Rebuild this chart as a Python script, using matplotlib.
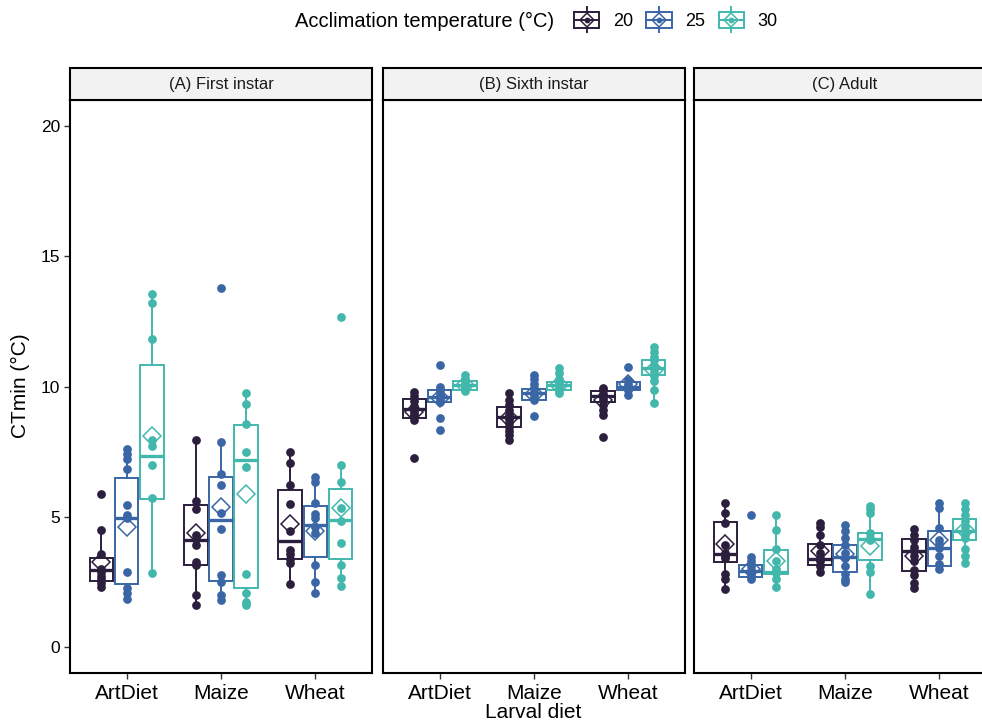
import matplotlib
matplotlib.use("Agg")
import matplotlib.pyplot as plt
from matplotlib.legend_handler import HandlerBase
from matplotlib.lines import Line2D
from matplotlib.patches import Rectangle

plt.rcParams['font.family'] = ['Liberation Sans', 'DejaVu Sans']

# data - indexed [stage][diet][temperature]
stages = ["(A) First instar", "(B) Sixth instar", "(C) Adult"]
diets = ["ArtDiet", "Maize", "Wheat"]
temps = ["20", "25", "30"]
temp_colors = ["#2C1E3D", "#3A66A6", "#42B8AD"]

q1 = [
    [[2.54, 2.40, 5.69], [3.16, 2.54, 2.27], [3.37, 3.47, 3.37]],
    [[8.80, 9.39, 9.87], [8.45, 9.49, 9.87], [9.39, 9.85, 10.45]],
    [[3.27, 2.70, 2.79], [3.14, 2.88, 3.33], [2.92, 3.09, 4.09]],
]
med = [
    [[2.95, 4.97, 7.32], [4.11, 4.87, 7.19], [4.08, 4.67, 4.87]],
    [[9.15, 9.59, 10.05], [8.83, 9.75, 10.05], [9.62, 10.00, 10.70]],
    [[3.56, 2.92, 2.86], [3.37, 3.47, 4.16], [3.67, 3.79, 4.45]],
]
q3 = [
    [[3.42, 6.48, 10.84], [5.46, 6.53, 8.52], [6.02, 5.41, 6.07]],
    [[9.52, 9.85, 10.23], [9.21, 9.92, 10.19], [9.81, 10.16, 11.02]],
    [[4.80, 3.14, 3.72], [3.97, 3.90, 4.39], [4.13, 4.45, 4.92]],
]
whisk_lo = [
    [[2.30, 1.86, 2.83], [1.61, 1.81, 1.63], [2.42, 2.09, 2.35]],
    [[8.73, 9.30, 9.82], [7.96, 9.40, 9.75], [8.92, 9.68, 9.36]],
    [[2.22, 2.60, 2.32], [2.86, 2.48, 2.03], [2.28, 2.99, 3.24]],
]
whisk_hi = [
    [[4.49, 7.60, 13.55], [7.93, 7.88, 9.75], [7.50, 6.51, 6.99]],
    [[9.77, 10.00, 10.45], [9.75, 10.45, 10.70], [9.94, 10.30, 11.53]],
    [[5.51, 3.47, 5.05], [4.75, 4.67, 5.43], [4.52, 5.51, 5.51]],
]
means = [
    [[3.27, 4.62, 8.11], [4.39, 5.36, 5.87], [4.72, 4.47, 5.33]],
    [[9.04, 9.55, 10.07], [8.80, 9.72, 10.07], [9.50, 10.10, 10.64]],
    [[3.94, 2.99, 3.30], [3.69, 3.55, 3.88], [3.50, 4.11, 4.50]],
]

first_instar_pts = [
    [[5.89, 4.49, 3.55, 2.99, 2.86, 2.73, 2.60, 2.45, 2.30],
     [7.60, 7.42, 7.22, 6.84, 5.46, 5.08, 4.95, 2.88, 2.27, 2.09, 1.86],
     [13.55, 13.19, 11.84, 7.96, 7.70, 6.97, 5.71, 2.83]],
    [[7.93, 5.59, 5.28, 4.31, 4.13, 3.93, 3.27, 3.16, 1.99, 1.61],
     [13.80, 7.88, 6.63, 6.23, 5.13, 4.54, 2.78, 2.48, 1.99, 1.81],
     [9.75, 9.34, 8.57, 7.47, 6.92, 2.81, 2.09, 1.73, 1.63]],
    [[7.50, 7.07, 6.20, 5.48, 4.44, 3.72, 3.55, 3.37, 3.21, 2.42],
     [6.51, 6.33, 5.54, 5.10, 4.95, 4.59, 4.39, 3.16, 2.48, 2.09],
     [12.66, 6.99, 6.33, 5.33, 4.82, 4.01, 3.14, 2.65, 2.35]],
]
sixth_instar_pts = [
    [[9.77, 9.62, 9.45, 9.25, 9.15, 9.05, 8.95, 8.85, 8.73, 7.26],
     [10.82, 10.00, 9.85, 9.70, 9.60, 9.50, 9.40, 8.79, 8.32],
     [10.45, 10.30, 10.20, 10.10, 10.05, 10.00, 9.95, 9.82]],
    [[9.75, 9.50, 9.30, 9.10, 8.90, 8.75, 8.60, 8.45, 8.30, 8.15, 7.96],
     [10.45, 10.30, 10.10, 9.95, 9.80, 9.70, 9.60, 9.50, 8.85],
     [10.70, 10.50, 10.30, 10.15, 10.05, 9.95, 9.87, 9.75]],
    [[9.94, 9.85, 9.70, 9.60, 9.50, 9.30, 9.10, 8.92, 8.06],
     [10.74, 10.25, 10.10, 10.00, 9.95, 9.90, 9.85, 9.68],
     [11.53, 11.34, 11.15, 11.00, 10.80, 10.70, 10.55, 10.40, 10.20, 9.87, 9.36]],
]
adult_pts = [
    [[5.51, 5.13, 4.77, 3.90, 3.60, 3.50, 3.40, 2.79, 2.60, 2.22],
     [5.05, 3.47, 3.30, 3.10, 2.95, 2.80, 2.70, 2.60],
     [5.05, 4.49, 3.75, 3.30, 2.99, 2.85, 2.60, 2.32]],
    [[4.75, 4.60, 4.30, 3.90, 3.60, 3.40, 3.30, 3.10, 2.86],
     [4.67, 4.45, 4.20, 3.90, 3.60, 3.40, 3.10, 2.80, 2.60, 2.48],
     [5.43, 5.28, 5.15, 4.39, 4.20, 4.10, 3.10, 2.86, 2.03]],
    [[4.52, 4.30, 4.10, 3.85, 3.70, 3.50, 3.30, 2.95, 2.75, 2.45, 2.28],
     [5.51, 5.35, 4.58, 4.10, 3.95, 3.80, 3.50, 3.20, 2.99],
     [5.51, 5.28, 5.05, 4.85, 4.60, 4.45, 4.35, 4.20, 3.75, 3.50, 3.24]],
]
points = [first_instar_pts, sixth_instar_pts, adult_pts]

W, H = 982, 724
dodge = 0.268
box_w = 0.25


def frac(left, top, w, h):
    return [left / W, 1 - (top + h) / H, w / W, h / H]


class BoxKey(HandlerBase):
    # legend key: little boxplot with point and open diamond
    def create_artists(self, legend, orig_handle, xdescent, ydescent,
                       width, height, fontsize, trans):
        c = orig_handle.get_color()
        x0, y0 = -xdescent, -ydescent
        cx, cy = x0 + width / 2, y0 + height / 2
        wh = Line2D([cx, cx], [cy - 9, cy + 9], color=c, lw=1.4, transform=trans)
        rect = Rectangle((x0, cy - 5.5), width, 11, facecolor='white',
                         edgecolor=c, lw=1.4, transform=trans)
        mline = Line2D([x0, x0 + width], [cy, cy], color=c, lw=1.4, transform=trans)
        pt = Line2D([cx], [cy], marker='o', ms=4.2, color=c, mec='none', transform=trans)
        dm = Line2D([cx], [cy], marker='D', ms=7.6, mfc='none', mec=c, mew=1.1,
                    transform=trans)
        return [wh, rect, mline, pt, dm]


fig = plt.figure(figsize=(W / 100, H / 100), dpi=100)
lefts = [70, 383, 694]

for s, stage in enumerate(stages):
    ax = fig.add_axes(frac(lefts[s], 100, 302, 573))
    for d in range(3):
        for t in range(3):
            c = temp_colors[t]
            x = d + 1 + (t - 1) * dodge
            st = dict(q1=q1[s][d][t], med=med[s][d][t], q3=q3[s][d][t],
                      whislo=whisk_lo[s][d][t], whishi=whisk_hi[s][d][t], fliers=[])
            ax.bxp([st], positions=[x], widths=box_w, patch_artist=True,
                   showcaps=False, showfliers=False,
                   boxprops=dict(facecolor='white', edgecolor=c, linewidth=1.4),
                   whiskerprops=dict(color=c, linewidth=1.4),
                   medianprops=dict(color=c, linewidth=2.4),
                   zorder=2)
            pts = points[s][d][t]
            ax.plot([x] * len(pts), pts, 'o', color=c, ms=6.3, mec='none', zorder=3)
            ax.plot([x], [means[s][d][t]], 'D', ms=9, mfc='none', mec=c, mew=1.1, zorder=4)

    ax.set_xlim(0.4, 3.6)
    ax.set_ylim(-1, 21)
    ax.set_xticks([1, 2, 3])
    ax.set_xticklabels(diets)
    ax.set_yticks([0, 5, 10, 15, 20])
    ax.tick_params(axis='x', length=4, width=1.0, color='#333333', labelsize=15, pad=4)
    ax.tick_params(axis='y', length=4, width=1.0, color='#333333', labelsize=12.5, pad=3)
    if s > 0:
        ax.tick_params(axis='y', left=False, labelleft=False)
    for sp in ax.spines.values():
        sp.set_linewidth(1.5)
        sp.set_color('black')

    sax = fig.add_axes(frac(lefts[s], 68, 302, 32))
    sax.set_facecolor('#F2F2F2')
    sax.set_xticks([])
    sax.set_yticks([])
    for sp in sax.spines.values():
        sp.set_linewidth(1.5)
        sp.set_color('black')
    sax.text(0.5, 0.5, stage, ha='center', va='center', fontsize=12,
             color='#1A1A1A', transform=sax.transAxes)

fig.text(20 / W, 1 - 386 / H, "CTmin (°C)", rotation=90, ha='center', va='center',
         fontsize=15)
fig.text(533 / W, 1 - 713 / H, "Larval diet", ha='center', va='center', fontsize=15)

fig.text(295 / W, 1 - 21 / H, "Acclimation temperature (°C)", ha='left', va='center',
         fontsize=14.5)
handles = [Line2D([], [], color=c) for c in temp_colors]
fig.legend(handles, temps, handler_map={Line2D: BoxKey()}, loc='center left',
           bbox_to_anchor=(574 / W, 1 - 21 / H), ncol=3, frameon=False,
           fontsize=13, handlelength=1.4, handleheight=1.0, handletextpad=0.75,
           columnspacing=0.75, borderpad=0, borderaxespad=0)

fig.savefig("out.png", dpi=100)
